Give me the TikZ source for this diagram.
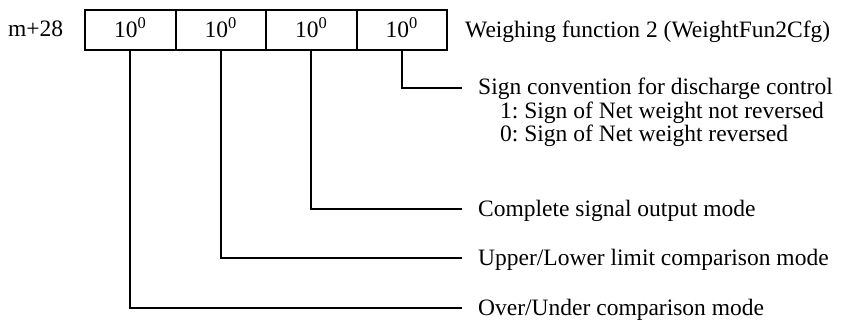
\documentclass[tikz,border=0pt]{standalone}
\usepackage{fontspec}
\setmainfont{Liberation Serif}
\frenchspacing
\usetikzlibrary{positioning}
\tikzset{%
		feld/.style={draw,line width=2pt,outer sep=0pt,minimum width=90.5pt,minimum height=40pt,inner sep=0pt,text height=16pt,text depth=0pt},
		schrift/.style={font=\fontsize{23.5}{23}\selectfont,inner sep=0pt},
		bez/.style={schrift,anchor=west,text height=16pt,text depth=2pt,inner xsep=16pt,inner ysep=0pt},
		leit/.style={draw,line width=1.8pt}
	}
\newcommand{\zehn}{10\textsuperscript{0}}

\begin{document}
\begin{tikzpicture}[x=1pt,y=-1pt]
      \useasboundingbox (0,0) rectangle (842,320) ;
      \node[schrift,anchor=base west] (reg) at (8,37) {m+28} ;
      \node[feld,schrift] (c1) at (130.25,30) {\zehn} ;
      \node[feld,schrift,right=0pt of c1] (c2) {\zehn} ;
      \node[feld,schrift,right=0pt of c2] (c3) {\zehn} ;
      \node[feld,schrift,right=0pt of c3] (c4) {\zehn} ;
      \node[schrift,anchor=base west] (titel) at (465,38) {Weighing function 2 (WeightFun2Cfg)} ;

      \node[bez] (b4) at (462,88) {Sign convention for discharge control} ;
      \node[schrift,anchor=base west] (b4a) at (500,119) {1: Sign of Net weight not reversed} ;
      \node[schrift,anchor=base west] (b4b) at (500,142) {0: Sign of Net weight reversed} ;
      \node[bez] (b3) at (462,209) {Complete signal output mode} ;
      \node[bez] (b2) at (462,258) {Upper/Lower limit comparison mode} ;
      \node[bez] (b1) at (462,308) {Over/Under comparison mode} ;

      \draw[leit] (c4.south) |- (b4.west) ;
      \draw[leit] (c3.south) |- (b3.west) ;
      \draw[leit] (c2.south) |- (b2.west) ;
      \draw[leit] (c1.south) |- (b1.west) ;
\end{tikzpicture}
\end{document}
